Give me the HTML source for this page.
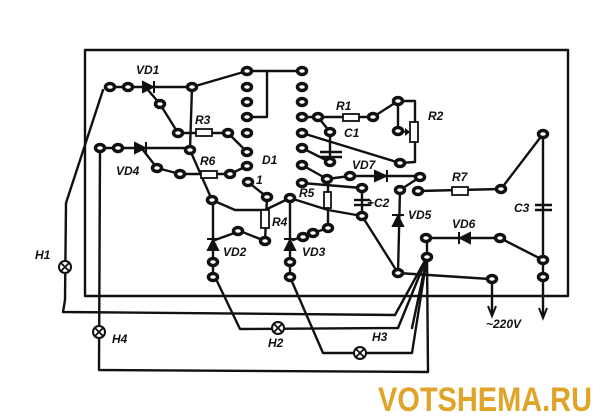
<!DOCTYPE html>
<html><head><meta charset="utf-8"><style>
html,body{margin:0;padding:0;background:#fff;width:600px;height:420px;overflow:hidden}
svg text{font-family:"Liberation Sans",sans-serif;font-weight:bold;font-style:italic;font-size:12px;fill:#111}
</style></head><body>
<svg width="600" height="420" viewBox="0 0 600 420" xmlns="http://www.w3.org/2000/svg">
<g fill="none" stroke="#111" stroke-width="2.4" stroke-linejoin="round" stroke-linecap="round">
<rect x="85" y="50" width="483" height="246" stroke-width="2.4"/>
<polyline points="110,87 192,87 247,71 302,71"/>
<line x1="192" y1="87" x2="190" y2="150"/>
<polyline points="247,117 267,117 267,71"/>
<polyline points="148,90 160,104 178,133 228,133 247,152"/>
<polyline points="100,148 190,148"/>
<polyline points="143,150 157,168 180,174 230,174 247,166"/>
<polyline points="190,150 212,200 235,210 265,210 290,198 328,210 362,216 398,273 490,279"/>
<polyline points="248,182 267,197 265,241 240,231 215,240"/>
<line x1="213" y1="200" x2="213" y2="277"/>
<line x1="290" y1="198" x2="290" y2="277"/>
<polyline points="293,240 304,236 313,233 328,228 328,179"/>
<polyline points="302,117 373,117 398,101 415,101 415,162 400,163 302,133"/>
<line x1="398" y1="101" x2="398" y2="131"/>
<polyline points="318,117 330,132 330,162"/>
<line x1="302" y1="148" x2="330" y2="162"/>
<polyline points="302,165 327,179 350,176 420,176"/>
<polyline points="302,183 362,188 362,216"/>
<polyline points="420,177 400,190 398,273"/>
<polyline points="418,191 501,189 543,134 543,277"/>
<polyline points="426,238 500,238 543,260"/>
<line x1="427" y1="238" x2="427" y2="257"/>
<line x1="492" y1="280" x2="492" y2="312"/>
<line x1="543" y1="280" x2="543" y2="315"/>
<polyline points="103,90 66,203 65,300 63,312 395,315 427,257"/>
<polyline points="100,148 99,370 428,372 427,257"/>
<polyline points="215,277 240,329 398,328 427,257"/>
<polyline points="290,277 323,353 412,353 427,257"/>
<line x1="427" y1="257" x2="412" y2="328"/>
</g>
<path d="M488,306 L492,316 L496,306" fill="none" stroke="#111" stroke-width="2"/>
<path d="M539,308 L543,318 L547,308" fill="none" stroke="#111" stroke-width="2"/>
<g fill="#fff" stroke="#111" stroke-width="1.8">
<rect x="196" y="129" width="16" height="7"/>
<rect x="201" y="171" width="16" height="7"/>
<rect x="343" y="114" width="16" height="7"/>
<rect x="452" y="187" width="16" height="8"/>
<rect x="410" y="122" width="8" height="20"/>
<rect x="261" y="210" width="8" height="18"/>
<rect x="324" y="192" width="7" height="16"/>
</g>
<g stroke="#111" stroke-width="2.4">
<line x1="320" y1="152" x2="342" y2="152"/><line x1="320" y1="157" x2="342" y2="157"/>
<line x1="354" y1="200" x2="370" y2="200"/><line x1="354" y1="205" x2="370" y2="205"/>
<line x1="535" y1="205" x2="552" y2="205"/><line x1="535" y1="210" x2="552" y2="210"/>
</g>
<g fill="#111" stroke="#111" stroke-width="2">
<path d="M143,82 L153,87 L143,92Z"/><line x1="154" y1="81" x2="154" y2="93"/>
<path d="M135,143 L145,148 L135,153Z"/><line x1="146" y1="142" x2="146" y2="154"/>
<path d="M375,171 L386,176 L375,181Z"/><line x1="387" y1="170" x2="387" y2="182"/>
<path d="M470,233 L460,238 L470,243Z"/><line x1="459" y1="232" x2="459" y2="244"/>
<path d="M208,250 L213,240 L218,250Z"/><line x1="207" y1="239" x2="219" y2="239"/>
<path d="M285,250 L290,240 L295,250Z"/><line x1="284" y1="239" x2="296" y2="239"/>
<path d="M393,226 L398,216 L403,226Z"/><line x1="392" y1="215" x2="404" y2="215"/><line x1="392" y1="226" x2="404" y2="226"/>
</g>
<path d="M398,131 L408,132" stroke="#111" stroke-width="2"/><path d="M405,128 L410,132 L405,136Z" fill="#111"/>
<g fill="#fff" stroke="#111" stroke-width="3.5">
<ellipse cx="110" cy="87" rx="4.5" ry="3.5"/><ellipse cx="128" cy="87" rx="4.5" ry="3.5"/>
<ellipse cx="192" cy="87" rx="4.5" ry="3.5"/><ellipse cx="160" cy="104" rx="4.5" ry="3.5"/>
<ellipse cx="178" cy="133" rx="4.5" ry="3.5"/><ellipse cx="228" cy="133" rx="4.5" ry="3.5"/>
<ellipse cx="100" cy="148" rx="4.5" ry="3.5"/><ellipse cx="118" cy="148" rx="4.5" ry="3.5"/>
<ellipse cx="190" cy="150" rx="4.5" ry="3.5"/><ellipse cx="157" cy="168" rx="4.5" ry="3.5"/>
<ellipse cx="180" cy="174" rx="4.5" ry="3.5"/><ellipse cx="230" cy="174" rx="4.5" ry="3.5"/>
<ellipse cx="247" cy="71" rx="4.5" ry="3.5"/><ellipse cx="247" cy="87" rx="4.5" ry="3.5"/>
<ellipse cx="247" cy="102" rx="4.5" ry="3.5"/><ellipse cx="247" cy="117" rx="4.5" ry="3.5"/>
<ellipse cx="247" cy="133" rx="4.5" ry="3.5"/><ellipse cx="247" cy="152" rx="4.5" ry="3.5"/>
<ellipse cx="247" cy="166" rx="4.5" ry="3.5"/><ellipse cx="248" cy="182" rx="4.5" ry="3.5"/>
<ellipse cx="302" cy="71" rx="4.5" ry="3.5"/><ellipse cx="302" cy="87" rx="4.5" ry="3.5"/>
<ellipse cx="302" cy="102" rx="4.5" ry="3.5"/><ellipse cx="302" cy="117" rx="4.5" ry="3.5"/>
<ellipse cx="302" cy="133" rx="4.5" ry="3.5"/><ellipse cx="302" cy="148" rx="4.5" ry="3.5"/>
<ellipse cx="302" cy="165" rx="4.5" ry="3.5"/><ellipse cx="302" cy="183" rx="4.5" ry="3.5"/>
<ellipse cx="318" cy="117" rx="4.5" ry="3.5"/><ellipse cx="373" cy="117" rx="4.5" ry="3.5"/>
<ellipse cx="398" cy="101" rx="4.5" ry="3.5"/><ellipse cx="398" cy="131" rx="4.5" ry="3.5"/>
<ellipse cx="400" cy="163" rx="4.5" ry="3.5"/><ellipse cx="330" cy="132" rx="4.5" ry="3.5"/>
<ellipse cx="330" cy="162" rx="4.5" ry="3.5"/><ellipse cx="327" cy="179" rx="4.5" ry="3.5"/>
<ellipse cx="350" cy="176" rx="4.5" ry="3.5"/><ellipse cx="362" cy="188" rx="4.5" ry="3.5"/>
<ellipse cx="362" cy="216" rx="4.5" ry="3.5"/><ellipse cx="420" cy="177" rx="4.5" ry="3.5"/>
<ellipse cx="400" cy="190" rx="4.5" ry="3.5"/><ellipse cx="418" cy="191" rx="4.5" ry="3.5"/>
<ellipse cx="501" cy="189" rx="4.5" ry="3.5"/><ellipse cx="543" cy="134" rx="4.5" ry="3.5"/>
<ellipse cx="426" cy="238" rx="4.5" ry="3.5"/><ellipse cx="500" cy="238" rx="4.5" ry="3.5"/>
<ellipse cx="427" cy="257" rx="4.5" ry="3.5"/><ellipse cx="543" cy="260" rx="4.5" ry="3.5"/>
<ellipse cx="543" cy="277" rx="4.5" ry="3.5"/><ellipse cx="398" cy="273" rx="4.5" ry="3.5"/>
<ellipse cx="492" cy="279" rx="4.5" ry="3.5"/>
<ellipse cx="212" cy="200" rx="4.5" ry="3.5"/><ellipse cx="290" cy="198" rx="4.5" ry="3.5"/>
<ellipse cx="267" cy="197" rx="4.5" ry="3.5"/><ellipse cx="265" cy="241" rx="4.5" ry="3.5"/>
<ellipse cx="238" cy="231" rx="4.5" ry="3.5"/><ellipse cx="328" cy="228" rx="4.5" ry="3.5"/>
<ellipse cx="313" cy="233" rx="4.5" ry="3.5"/><ellipse cx="303" cy="237" rx="4.5" ry="3.5"/>
<ellipse cx="213" cy="262" rx="4.5" ry="3.5"/><ellipse cx="213" cy="277" rx="4.5" ry="3.5"/>
<ellipse cx="290" cy="262" rx="4.5" ry="3.5"/><ellipse cx="290" cy="277" rx="4.5" ry="3.5"/>
</g>
<g fill="#fff" stroke="#111" stroke-width="2">
<circle cx="65" cy="267" r="6"/><circle cx="99" cy="332" r="6"/>
<circle cx="278" cy="328" r="6"/><circle cx="360" cy="353" r="6"/>
</g>
<g stroke="#111" stroke-width="1.8">
<path d="M61,263 L69,271 M69,263 L61,271"/><path d="M95,328 L103,336 M103,328 L95,336"/>
<path d="M274,324 L282,332 M282,324 L274,332"/><path d="M356,349 L364,357 M364,349 L356,357"/>
</g>
<text x="136" y="74">VD1</text><text x="195" y="124">R3</text>
<text x="116" y="175">VD4</text><text x="200" y="165">R6</text>
<text x="262" y="164">D1</text><text x="256" y="184">1</text>
<text x="272" y="226">R4</text><text x="223" y="256">VD2</text>
<text x="302" y="256">VD3</text><text x="299" y="197">R5</text>
<text x="336" y="110">R1</text><text x="344" y="137">C1</text>
<text x="428" y="120">R2</text><text x="352" y="169">VD7</text>
<text x="367" y="207">+C2</text><text x="408" y="219">VD5</text>
<text x="452" y="228">VD6</text><text x="452" y="181">R7</text>
<text x="514" y="212">C3</text><text x="35" y="259">H1</text>
<text x="112" y="343">H4</text><text x="268" y="347">H2</text>
<text x="372" y="341">H3</text><text x="486" y="328">~220V</text>
<text x="378" y="411" textLength="214" lengthAdjust="spacingAndGlyphs" style="font-size:34px;font-style:normal;font-weight:bold;fill:#e0a428;font-family:'Liberation Sans',sans-serif">VOTSHEMA.RU</text>
</svg>
</body></html>
